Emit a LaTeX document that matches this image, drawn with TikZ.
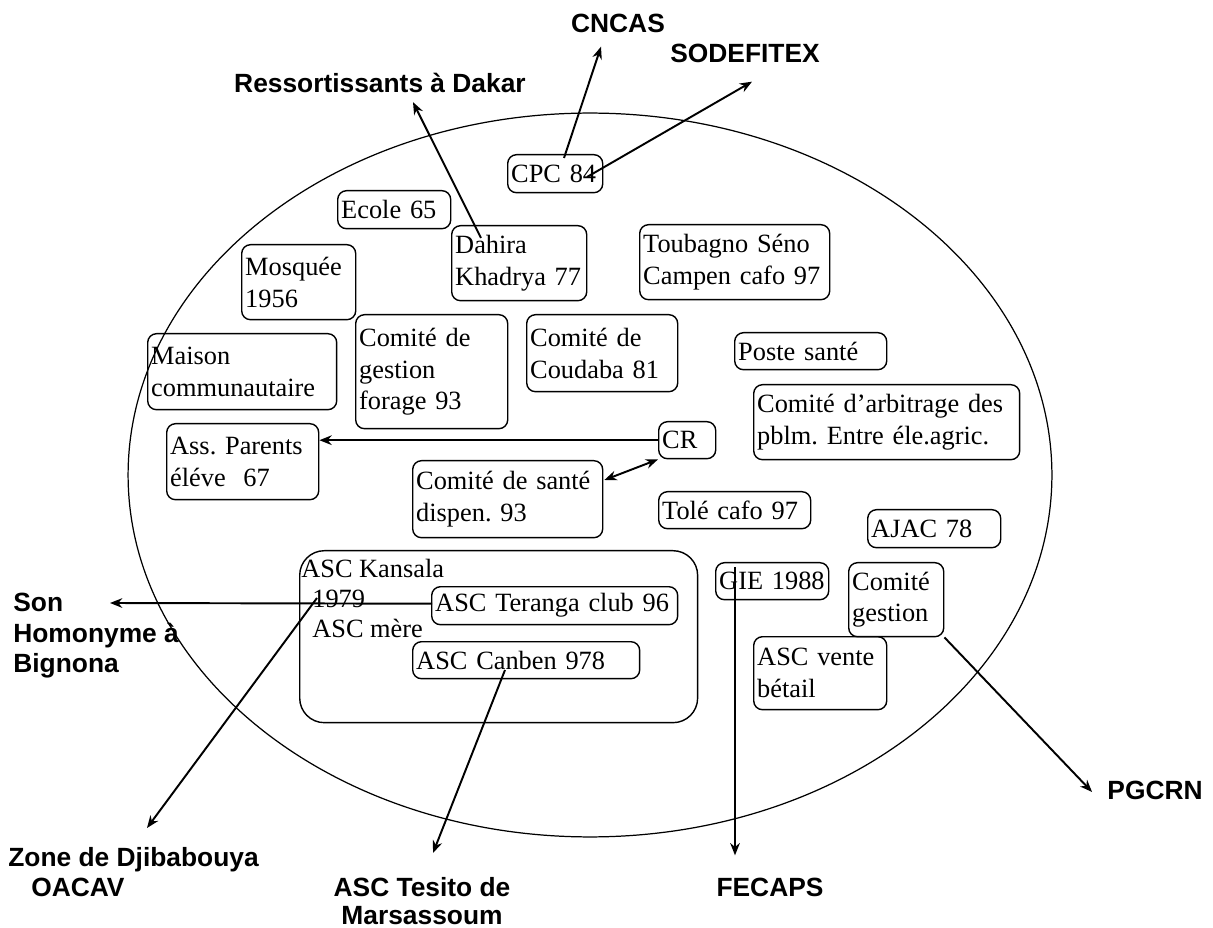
\documentclass[tikz,border=0pt]{standalone}
\usepackage{fontspec}
\setmainfont{Liberation Serif}
\setsansfont{Liberation Sans}
\usetikzlibrary{arrows.meta}

\begin{document}
\begin{tikzpicture}[x=0.02cm, y=-0.02cm,
	>={Stealth[length=7pt,width=5.5pt]},
	org/.style={draw, rounded corners=5pt, line width=0.8pt, anchor=north west, align=left, inner xsep=2pt, inner ysep=0pt, font=\fontsize{15}{18}\selectfont},
	outside/.style={inner sep=0pt, font=\fontsize{15}{17}\selectfont\sffamily\bfseries},
	link/.style={->, line width=1.1pt}]
	
	\useasboundingbox (0,0) rectangle (1213,928);
	
	% le village
	\draw[line width=0.7pt] (590,475) ellipse [x radius=9.24cm, y radius=7.24cm];
	
	\node[org, text width=1.76cm, minimum height=0.76cm] (cpc) at (507,154) {CPC 84};
	\node[org, text width=2.12cm, minimum height=0.76cm] (ecole) at (337,190) {Ecole 65};
	\node[org, text width=2.56cm, minimum height=1.50cm] (dahira) at (451,225) {Dahira\\Khadrya~77};
	\node[org, text width=2.14cm, minimum height=1.50cm] (mosquee) at (241,244) {Mosquée\\1956};
	\node[org, text width=3.66cm, minimum height=1.50cm] (toubagno) at (639,224) {Toubagno Séno\\Campen cafo~97};
	\node[org, text width=2.90cm, minimum height=2.28cm] (forage) at (355,314) {Comité de\\gestion\\forage 93};
	\node[org, text width=2.88cm, minimum height=1.54cm] (coudaba) at (526,314) {Comité de\\Coudaba 81};
	\node[org, text width=3.64cm, minimum height=1.52cm] (maison) at (147,333) {Maison\\communautaire};
	\node[org, text width=2.90cm, minimum height=0.74cm] (poste) at (734,332) {Poste santé};
	\node[org, text width=5.18cm, minimum height=1.50cm] (arbitrage) at (753,384) {Comité d’arbitrage des\\pblm.\ Entre éle.agric.};
	\node[org, text width=2.90cm, minimum height=1.52cm] (parents) at (166,423) {Ass.\ Parents\\éléve\ \ 67};
	\node[org, text width=1.00cm, minimum height=0.74cm] (cr) at (658,421) {CR};
	\node[org, text width=3.66cm, minimum height=1.54cm] (sante) at (412,460) {Comité de santé\\dispen.\ 93};
	\node[org, text width=2.90cm, minimum height=0.74cm] (tole) at (658,491) {Tolé cafo 97};
	\node[org, text width=2.52cm, minimum height=0.76cm] (ajac) at (867,509) {AJAC 78};
	
	% les ASC
	\node[org, rounded corners=14pt, minimum width=7.96cm, minimum height=3.44cm] (kansala) at (299,550) {};
	\node[inner sep=0pt, anchor=north west, align=left, font=\fontsize{15}{17}\selectfont] (kansalatxt) at (301,559) {ASC Kansala\\\hspace*{0.22cm}1979\\\hspace*{0.22cm}ASC mère};
	\node[org, text width=4.78cm, minimum height=0.76cm] (teranga) at (431,586) {ASC Teranga club 96};
	\node[org, text width=4.40cm, minimum height=0.74cm] (canben) at (412,641) {ASC Canben 978};
	
	\node[org, text width=2.12cm, minimum height=0.74cm] (gie) at (715,562) {GIE 1988};
	\node[org, text width=1.76cm, minimum height=1.48cm] (cgest) at (848,562) {Comité\\gestion};
	\node[org, text width=2.52cm, minimum height=1.46cm] (vente) at (753,636) {ASC vente\\bétail};
	
	% partenaires
	\node[outside] (ress) at (380,83) {Ressortissants à Dakar};
	\node[outside] (cncas) at (618,23) {CNCAS};
	\node[outside] (sodefitex) at (745,53) {SODEFITEX};
	\node[outside, anchor=north west, align=left, font=\fontsize{15}{17.4}\selectfont\sffamily\bfseries] (son) at (13,593) {Son\\Homonyme à\\Bignona};
	\node[outside, anchor=north west, align=left] (zone) at (8,847) {Zone de Djibabouya\\\hspace*{0.46cm}OACAV};
	\node[outside, anchor=north, align=center, font=\fontsize{15}{16}\selectfont\sffamily\bfseries] (tesito) at (422,877) {ASC Tesito de\\Marsassoum};
	\node[outside] (fecaps) at (770,887) {FECAPS};
	\node[outside] (pgcrn) at (1155,790) {PGCRN};
	
	\draw[link] ([shift={(30,13)}]dahira.north west) -- ([shift={(33,9)}]ress.south);
	\draw[link] ([shift={(57,4)}]cpc.north west) -- ([shift={(-17,14)}]cncas.south);
	\draw[link] ([shift={(80,23)}]cpc.north west) -- ([shift={(7,19)}]sodefitex.south);
	\draw[link] (cr.west) -- (cr.west -| parents.east);
	\draw[<->, line width=1.1pt] ([shift={(1,20)}]sante.north east) -- (cr.south west);
	\draw[link] ([shift={(1,-2)}]teranga.west) -- ([shift={(97,10)}]son.north west);
	\draw[link] ([shift={(18,48)}]kansala.north west) -- ([shift={(139,-19)}]zone.north west);
	\draw[link] ([shift={(93,29)}]canben.north west) -- ([shift={(11,-24)}]tesito.north);
	\draw[link] ([shift={(20,5)}]gie.north west) -- ([shift={(-35,-22)}]fecaps.north);
	\draw[link] (cgest.south east) -- ([shift={(-15,2)}]pgcrn.west);
\end{tikzpicture}
\end{document}
